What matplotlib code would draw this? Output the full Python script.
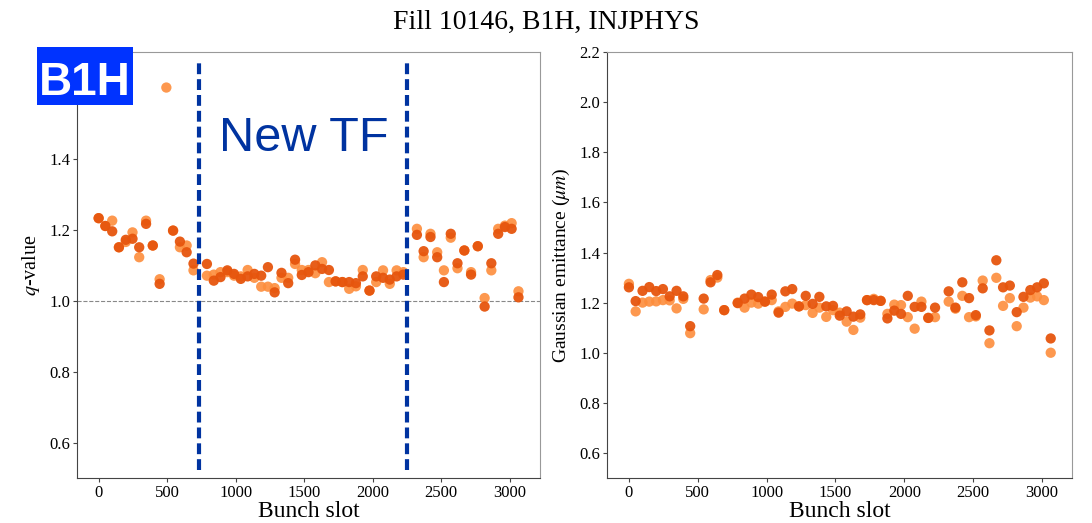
import numpy as np
import matplotlib
matplotlib.use("Agg")
import matplotlib.pyplot as plt
from matplotlib.patches import Rectangle

plt.rcParams['font.family'] = ['Liberation Serif', 'DejaVu Serif']
plt.rcParams['mathtext.fontset'] = 'stix'

# bunch slot of each train (gaps where the transfer function changed)
slots = [0, 49, 99, 148, 198, 247, 296, 346, 395, 445,
         494, 543, 593, 642, 692, np.nan, 790, 840, 889, 939,
         988, 1037, 1087, 1136, 1186, 1235, 1284, 1334, 1383, 1433,
         1482, 1531, 1581, 1630, 1680, 1729, 1778, 1828, 1877, 1927,
         1976, 2025, 2075, 2124, 2174, 2223, np.nan, 2322, 2371, 2421,
         2470, 2519, 2569, 2618, 2668, 2717, 2766, 2816, 2865, 2915,
         2964, 3013, 3063]

# q-value, two measurements
q_light = [1.232, 1.210, 1.225, 1.150, 1.165, 1.192, 1.122, 1.225, 1.155, 1.060,
           1.600, 1.197, 1.150, 1.155, 1.085, np.nan, 1.070, 1.073, 1.080, 1.080,
           1.070, 1.068, 1.086, 1.064, 1.039, 1.039, 1.035, 1.064, 1.064, 1.103,
           1.086, 1.086, 1.077, 1.108, 1.052, 1.054, 1.052, 1.033, 1.040, 1.086,
           1.028, 1.052, 1.085, 1.047, 1.085, 1.080, np.nan, 1.202, 1.122, 1.188,
           1.136, 1.085, 1.177, 1.091, 1.141, 1.080, 1.153, 1.007, 1.085, 1.202,
           1.211, 1.218, 1.026]
q_dark = [1.232, 1.210, 1.195, 1.150, 1.171, 1.174, 1.150, 1.216, 1.155, 1.047,
          np.nan, 1.197, 1.166, 1.136, 1.104, np.nan, 1.103, 1.056, 1.066, 1.085,
          1.075, 1.061, 1.068, 1.075, 1.070, 1.094, 1.023, 1.078, 1.049, 1.115,
          1.072, 1.080, 1.099, 1.089, 1.086, 1.054, 1.052, 1.052, 1.049, 1.068,
          1.028, 1.068, 1.064, 1.059, 1.068, 1.073, np.nan, 1.185, 1.139, 1.179,
          1.122, 1.052, 1.188, 1.105, 1.141, 1.073, 1.153, 0.983, 1.105, 1.188,
          1.207, 1.202, 1.009]

# gaussian emittance (um), two measurements
em_light = [1.275, 1.165, 1.200, 1.204, 1.205, 1.210, 1.209, 1.177, 1.215, 1.078,
            np.nan, 1.173, 1.290, 1.300, 1.170, np.nan, 1.200, 1.180, 1.200, 1.196,
            1.204, 1.210, 1.165, 1.183, 1.196, 1.185, 1.190, 1.159, 1.180, 1.143,
            1.170, 1.160, 1.124, 1.091, 1.140, 1.210, 1.215, 1.207, 1.155, 1.192,
            1.190, 1.142, 1.096, 1.204, 1.139, 1.142, np.nan, 1.204, 1.176, 1.227,
            1.142, 1.145, 1.288, 1.038, 1.299, 1.187, 1.218, 1.106, 1.180, 1.220,
            1.225, 1.210, 1.000]
em_dark = [1.261, 1.206, 1.247, 1.262, 1.246, 1.254, 1.225, 1.247, 1.225, 1.106,
           np.nan, 1.216, 1.281, 1.310, 1.170, np.nan, 1.198, 1.216, 1.232, 1.222,
           1.204, 1.232, 1.160, 1.245, 1.254, 1.185, 1.227, 1.195, 1.223, 1.185,
           1.187, 1.148, 1.165, 1.144, 1.153, 1.210, 1.210, 1.207, 1.137, 1.168,
           1.155, 1.227, 1.183, 1.183, 1.139, 1.180, np.nan, 1.245, 1.180, 1.281,
           1.218, 1.150, 1.257, 1.089, 1.369, 1.261, 1.268, 1.162, 1.223, 1.250,
           1.261, 1.277, 1.057]

tf_change = [730, 2252]

c_light = '#fd8d3c'
c_dark = '#e6550d'
c_blue = '#0033a0'

fig = plt.figure(figsize=(10.92, 5.23), dpi=100)
ax1 = fig.add_axes([0.0705, 0.086, 0.424, 0.8145])
ax2 = fig.add_axes([0.556, 0.086, 0.426, 0.8145])

for ax, yl, yd in [(ax1, q_light, q_dark), (ax2, em_light, em_dark)]:
    ax.scatter(slots, yl, s=55, color=c_light, edgecolors='none', alpha=0.9, zorder=3)
    ax.scatter(slots, yd, s=55, color=c_dark, edgecolors='none', alpha=0.95, zorder=4)
    ax.set_xlim(-158, 3220)
    ax.set_xticks([0, 500, 1000, 1500, 2000, 2500, 3000])
    ax.set_xlabel('Bunch slot', fontsize=17, labelpad=0)
    ax.tick_params(labelsize=12, length=3, color='#444444', pad=2)
    for side in ['left', 'bottom']:
        ax.spines[side].set_color('#444444')
    for side in ['top', 'right']:
        ax.spines[side].set_color('#999999')

# left: q-value (the 1.6 label sits under the B1H tag)
ax1.set_ylim(0.5, 1.7)
ax1.set_yticks([0.6, 0.8, 1.0, 1.2, 1.4])
ax1.set_ylabel('$q$-value', fontsize=14.5, labelpad=5)
ax1.axhline(1.0, color='#888888', ls='--', lw=0.8, zorder=1)
for xv in tf_change:
    ax1.axvline(xv, ymin=0.02, ymax=0.98, color=c_blue, lw=3, dashes=(2.6, 1.2), zorder=5)
ax1.text(880, 1.42, 'New TF', color=c_blue, fontsize=35,
         family=['Liberation Sans', 'DejaVu Sans'], zorder=6)

# right: emittance
ax2.set_ylim(0.5, 2.2)
ax2.set_yticks([0.6, 0.8, 1.0, 1.2, 1.4, 1.6, 1.8, 2.0, 2.2])
ax2.set_ylabel('Gaussian emittance ($\\mu m$)', fontsize=14, labelpad=5)

fig.suptitle('Fill 10146, B1H, INJPHYS', fontsize=20, y=0.982)

# B1H tag
fig.patches.append(Rectangle((0.0339, 0.7992), 0.0879, 0.1109, transform=fig.transFigure,
                             facecolor='#0033ff', edgecolor='none', zorder=9))
fig.text(0.0778, 0.8184, 'B1H', color='white', fontsize=33, fontweight='bold',
         family=['Liberation Sans', 'DejaVu Sans'], ha='center', va='baseline', zorder=10)

fig.savefig('out.png', dpi=100)
